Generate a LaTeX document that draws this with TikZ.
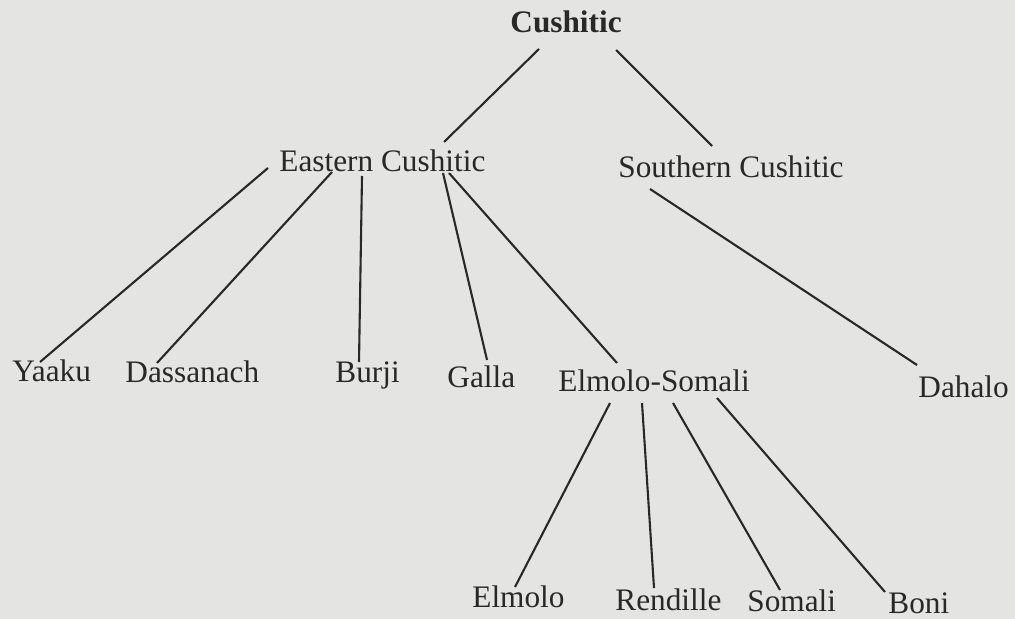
\documentclass[tikz,border=0pt]{standalone}
\usepackage{fontspec}
\setmainfont{Liberation Serif}
\definecolor{paper}{RGB}{228,228,226}
\definecolor{ink}{RGB}{40,40,40}
\begin{document}
\begin{tikzpicture}[x=0.5pt,y=-0.5pt,
  lbl/.style={anchor=base west,inner sep=0pt,text=ink,font=\fontsize{15.65}{18}\selectfont},
  conn/.style={draw=ink,line width=1.05pt}]
\path[use as bounding box,fill=paper] (0,0) rectangle (1015,619);
% nodes
\node[lbl,font=\fontsize{15.65}{18}\selectfont\bfseries] (cu) at (510,33) {Cushitic};
\node[lbl] (ec) at (279,172) {Eastern Cushitic};
\node[lbl] (sc) at (618,178) {Southern Cushitic};
\node[lbl] (ya) at (12,381) {Yaaku};
\node[lbl] (da) at (125,383) {Dassanach};
\node[lbl] (bu) at (335,383) {Burji};
\node[lbl] (ga) at (447,387) {Galla};
\node[lbl] (es) at (558,392) {Elmolo-Somali};
\node[lbl] (dh) at (918,397) {Dahalo};
\node[lbl] (el) at (472,607) {Elmolo};
\node[lbl] (re) at (615,610) {Rendille};
\node[lbl] (so) at (747,611) {Somali};
\node[lbl] (bo) at (888,613) {Boni};
% connectors
\draw[conn] ([shift={(29,16)}]cu.base west) -- ([shift={(165,-30)}]ec.base west);
\draw[conn] ([shift={(106,17)}]cu.base west) -- ([shift={(94,-32)}]sc.base west);
\draw[conn] ([shift={(-11,-4)}]ec.base west) -- ([shift={(28,-19)}]ya.base west);
\draw[conn] ([shift={(53,0)}]ec.base west) -- ([shift={(32,-20)}]da.base west);
\draw[conn] ([shift={(83,4)}]ec.base west) -- ([shift={(24,-21)}]bu.base west);
\draw[conn] ([shift={(164,1)}]ec.base west) -- ([shift={(40,-27)}]ga.base west);
\draw[conn] ([shift={(170,1)}]ec.base west) -- ([shift={(59,-29)}]es.base west);
\draw[conn] ([shift={(32,11)}]sc.base west) -- ([shift={(-1,-32)}]dh.base west);
\draw[conn] ([shift={(52,11)}]es.base west) -- ([shift={(43,-20)}]el.base west);
\draw[conn] ([shift={(84,11)}]es.base west) -- ([shift={(39,-22)}]re.base west);
\draw[conn] ([shift={(115,11)}]es.base west) -- ([shift={(33,-21)}]so.base west);
\draw[conn] ([shift={(159,6)}]es.base west) -- ([shift={(-3,-21)}]bo.base west);
\end{tikzpicture}
\end{document}
